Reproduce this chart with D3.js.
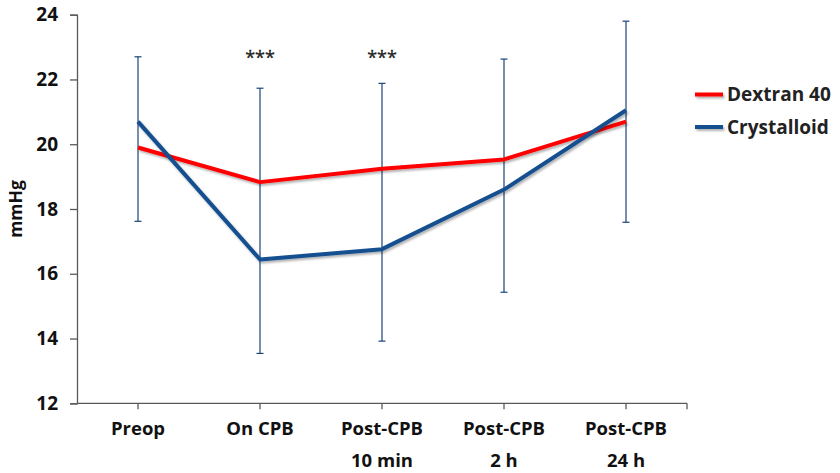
<!DOCTYPE html>
<html>
<head>
<meta charset="utf-8">
<script src="https://cdn.jsdelivr.net/npm/d3@7"></script>
<style>
  html, body { margin: 0; padding: 0; background: #fff; }
  svg { display: block; font-family: "Open Sans", "DejaVu Sans", sans-serif; }
</style>
</head>
<body>
<svg id="chart" width="840" height="473"></svg>
<script>
// Time points (two-line labels)
const categories = [["Preop"], ["On CPB"], ["Post-CPB", "10 min"], ["Post-CPB", "2 h"], ["Post-CPB", "24 h"]];
// Mean values, mmHg
const dextran = [19.9, 18.83, 19.24, 19.53, 20.7];
const crystalloid = [20.7, 16.44, 16.76, 18.6, 21.05];
// Upper error from Dextran mean, lower error from Crystalloid mean
const dextranSD = [2.8, 2.9, 2.64, 3.1, 3.1];
const crystalloidSD = [3.08, 2.9, 2.84, 3.17, 3.46];
// Significance markers
const significance = ["", "***", "***", "", ""];
const yTicks = [12, 14, 16, 18, 20, 22, 24];
const seriesNames = ["Dextran 40", "Crystalloid"];
const seriesColors = ["#ff0000", "#14508f"];

const svg = d3.select("#chart");
const plot = { left: 77, right: 687, top: 14.7, bottom: 403.3 };

const x = d3.scaleBand().domain(d3.range(categories.length)).range([plot.left, plot.right]);
const cx = i => x(i) + x.bandwidth() / 2;
const y = d3.scaleLinear().domain([12, 24]).range([plot.bottom, plot.top]);

const defs = svg.append("defs");
const f = defs.append("filter").attr("id", "shadow").attr("filterUnits", "userSpaceOnUse")
  .attr("x", 0).attr("y", 0).attr("width", 840).attr("height", 473);
f.append("feDropShadow").attr("dx", 1.5).attr("dy", 2).attr("stdDeviation", 1.3)
  .attr("flood-color", "#000").attr("flood-opacity", 0.3);

const axisColor = "#595959";

// Y axis
const yAxis = svg.append("g").attr("transform", `translate(${plot.left},0)`)
  .call(d3.axisLeft(y).tickValues(yTicks).tickSize(7).tickPadding(12));
yAxis.select(".domain").attr("stroke", axisColor).attr("stroke-width", 1.3);
yAxis.selectAll(".tick line").attr("stroke", axisColor).attr("stroke-width", 1.3);
yAxis.selectAll(".tick text").attr("font-size", 19).attr("font-weight", "bold")
  .attr("fill", "#111").attr("font-family", "'Open Sans', sans-serif");

// X axis with ticks at category centres
const xAxisG = svg.append("g");
xAxisG.append("line").attr("x1", plot.left).attr("x2", plot.right)
  .attr("y1", plot.bottom).attr("y2", plot.bottom)
  .attr("stroke", axisColor).attr("stroke-width", 1.3);
xAxisG.selectAll("line.tk").data(d3.range(categories.length).map(cx).concat([plot.right]))
  .join("line").attr("class", "tk")
  .attr("x1", d => d).attr("x2", d => d).attr("y1", plot.bottom).attr("y2", plot.bottom + 6)
  .attr("stroke", axisColor).attr("stroke-width", 1.3);
const labels = xAxisG.selectAll("text").data(categories).join("text")
  .attr("x", (d, i) => cx(i)).attr("y", 435)
  .attr("text-anchor", "middle").attr("font-size", 18.5).attr("font-weight", "bold").attr("fill", "#111");
labels.each(function(d, i) {
  const t = d3.select(this);
  d.forEach((s, k) => t.append("tspan").attr("x", cx(i)).attr("dy", k === 0 ? 0 : 31.5).text(s));
});

// Y title
svg.append("text").attr("transform", `translate(22,${(plot.top + plot.bottom) / 2}) rotate(-90)`)
  .attr("text-anchor", "middle").attr("font-size", 17.5).attr("font-weight", "bold").attr("fill", "#111")
  .text("mmHg");

// Error bars
const eb = svg.append("g").attr("stroke", "#1a4379").attr("stroke-width", 1.2);
categories.forEach((c, i) => {
  const hi = y(dextran[i] + dextranSD[i]);
  const lo = y(crystalloid[i] - crystalloidSD[i]);
  eb.append("line").attr("x1", cx(i)).attr("x2", cx(i)).attr("y1", hi).attr("y2", lo);
  eb.append("line").attr("x1", cx(i) - 3.5).attr("x2", cx(i) + 3.5).attr("y1", hi).attr("y2", hi);
  eb.append("line").attr("x1", cx(i) - 3.5).attr("x2", cx(i) + 3.5).attr("y1", lo).attr("y2", lo);
});

// Series lines
const line = d3.line().x((d, i) => cx(i)).y(d => y(d));
[dextran, crystalloid].forEach((s, k) => {
  svg.append("path").datum(s).attr("d", line)
    .attr("fill", "none").attr("stroke", seriesColors[k]).attr("stroke-width", 4)
    .attr("stroke-linejoin", "round").attr("filter", "url(#shadow)");
});

// Significance markers
svg.selectAll("text.sig").data(significance).join("text").attr("class", "sig")
  .attr("x", (d, i) => cx(i)).attr("y", 64)
  .attr("text-anchor", "middle").attr("font-size", 18).attr("fill", "#222")
  .attr("stroke", "#222").attr("stroke-width", 0.3)
  .text(d => d);

// Legend
const lg = svg.append("g");
seriesNames.forEach((n, k) => {
  const ly = 94.5 + k * 32.5;
  lg.append("line").attr("x1", 695).attr("x2", 723).attr("y1", ly).attr("y2", ly)
    .attr("stroke", seriesColors[k]).attr("stroke-width", 4).attr("filter", "url(#shadow)");
  lg.append("text").attr("x", 727).attr("y", ly + 6.5)
    .attr("font-size", 19).attr("font-weight", "bold").attr("fill", "#222").text(n);
});
</script>
</body>
</html>
